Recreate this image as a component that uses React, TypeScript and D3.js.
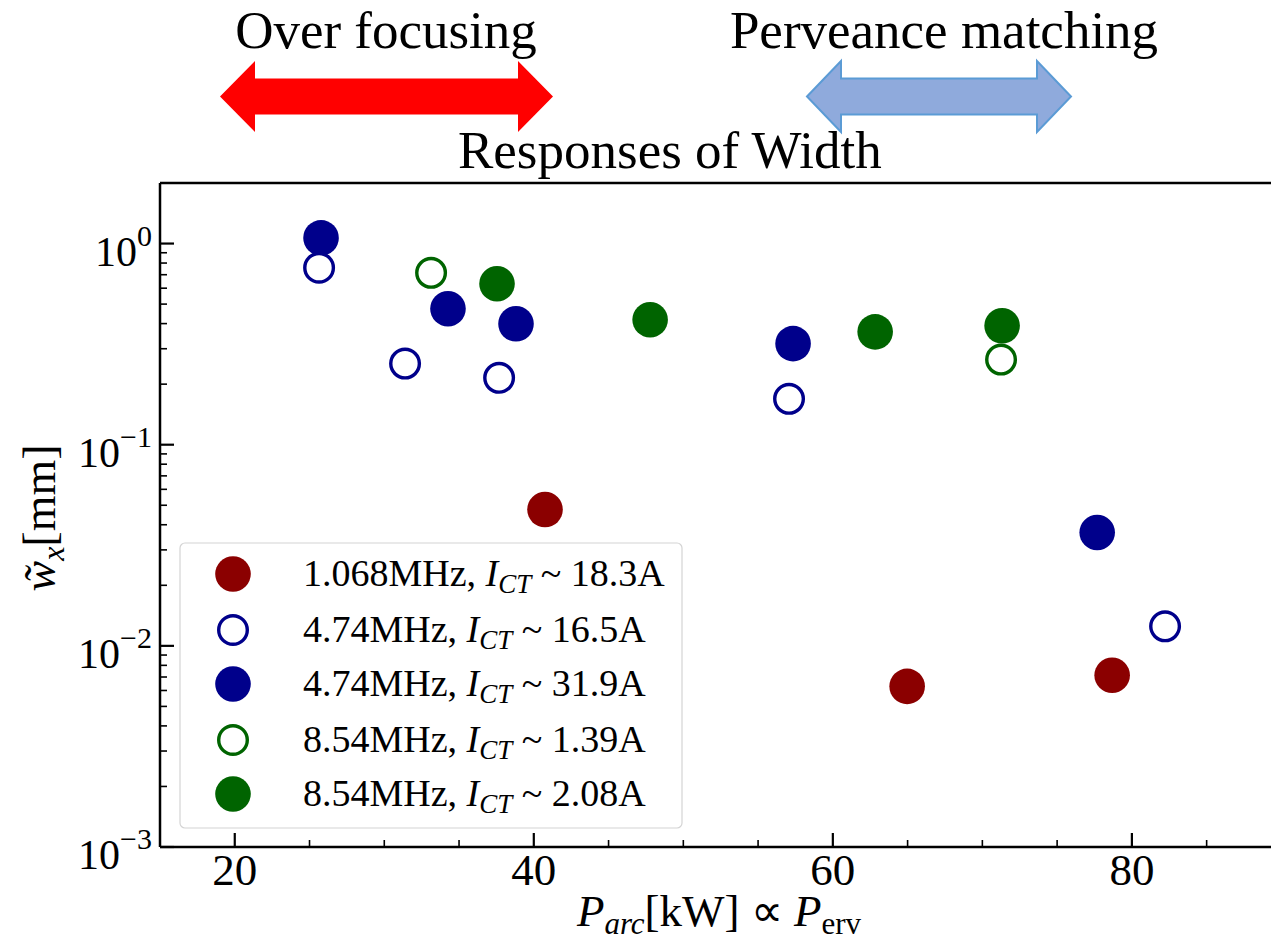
import React from "react";
import * as d3 from "d3";

// Canvas
const WIDTH = 1271;
const HEIGHT = 944;
const FONT = "'Liberation Serif', 'Times New Roman', serif";

// Axis extents
const xDomain: [number, number] = [15, 90];
const yDomain: [number, number] = [1e-3, 2];
const xMajorTicks = [20, 40, 60, 80];
const xTickLabels = ["20", "40", "60", "80"];
const yMajorTicks = [1e-3, 1e-2, 1e-1, 1];
const yTickExponents = ["\u22123", "\u22122", "\u22121", "0"];

// Series: P_arc [kW] and normalised width
const redX = [40.75, 64.97, 78.68];
const redY = [0.0476, 0.00629, 0.00714];

const blueOpenX = [25.64, 31.39, 37.68, 57.07, 82.22];
const blueOpenY = [0.758, 0.253, 0.215, 0.169, 0.0125];

const blueFilledX = [25.77, 34.26, 38.81, 57.34, 77.68];
const blueFilledY = [1.067, 0.474, 0.399, 0.318, 0.0366];

const greenOpenX = [33.13, 71.25];
const greenOpenY = [0.715, 0.265];

const greenFilledX = [37.54, 47.78, 62.83, 71.32];
const greenFilledY = [0.631, 0.418, 0.364, 0.39];

const legendFreq = ["1.068MHz, ", "4.74MHz, ", "4.74MHz, ", "8.54MHz, ", "8.54MHz, "];
const legendCurrent = ["18.3A", "16.5A", "31.9A", "1.39A", "2.08A"];
const legendColors = ["#8b0000", "#00008b", "#00008b", "#006400", "#006400"];
const legendOpen = [false, true, false, true, false];

type Series = { xs: number[]; ys: number[]; color: string; open: boolean };
const seriesList: Series[] = [
  { xs: redX, ys: redY, color: legendColors[0], open: false },
  { xs: blueFilledX, ys: blueFilledY, color: legendColors[2], open: false },
  { xs: greenFilledX, ys: greenFilledY, color: legendColors[4], open: false },
  { xs: blueOpenX, ys: blueOpenY, color: legendColors[1], open: true },
  { xs: greenOpenX, ys: greenOpenY, color: legendColors[3], open: true },
];

const FILLED_R = 17.8;
const OPEN_R = 14.3;
const OPEN_W = 3.4;

function Marker({ cx, cy, color, open }: { cx: number; cy: number; color: string; open: boolean }) {
  return open ? (
    <circle cx={cx} cy={cy} r={OPEN_R} fill="#fff" stroke={color} strokeWidth={OPEN_W} />
  ) : (
    <circle cx={cx} cy={cy} r={FILLED_R} fill={color} />
  );
}

function doubleArrow(x0: number, x1: number, head: number, cy: number, halfHead: number, halfShaft: number) {
  const pts = [
    [x0, cy],
    [x0 + head, cy - halfHead],
    [x0 + head, cy - halfShaft],
    [x1 - head, cy - halfShaft],
    [x1 - head, cy - halfHead],
    [x1, cy],
    [x1 - head, cy + halfHead],
    [x1 - head, cy + halfShaft],
    [x0 + head, cy + halfShaft],
    [x0 + head, cy + halfHead],
  ];
  return pts.map((p) => p.join(",")).join(" ");
}

export default function App() {
  const left = 160;
  const right = 1281.4;
  const top = 183;
  const bottom = 847;

  const x = d3.scaleLinear().domain(xDomain).range([left, right]);
  const y = d3.scaleLog().domain(yDomain).range([bottom, top]);

  const xMinor = d3.range(15, 91, 5).filter((v) => v % 20 !== 0);
  const yMinor: number[] = [];
  for (let e = -3; e <= 0; e++) {
    for (let k = 2; k <= 9; k++) {
      const v = k * Math.pow(10, e);
      if (v <= yDomain[1]) yMinor.push(v);
    }
  }

  const legendRows = [574, 630, 684, 740, 794];

  return (
    <svg
      width={WIDTH}
      height={HEIGHT}
      style={{ position: "absolute", left: 0, top: 0, display: "block", background: "#fff" }}
      fontFamily={FONT}
    >
      <rect x={0} y={0} width={WIDTH} height={HEIGHT} fill="#fff" />

      {/* Regime annotations */}
      <text x={386} y={48} fontSize={53} textAnchor="middle" fill="#000">
        Over focusing
      </text>
      <polygon points={doubleArrow(220, 553, 35, 96.5, 35.5, 18)} fill="#ff0000" />
      <text x={944} y={48} fontSize={53} textAnchor="middle" fill="#000">
        Perveance matching
      </text>
      <polygon
        points={doubleArrow(807, 1071, 34, 96.5, 35.5, 18)}
        fill="#8faadc"
        stroke="#5b9bd5"
        strokeWidth={2}
      />
      <text x={458} y={168} fontSize={53} fill="#000">
        Responses of Width
      </text>

      {/* Data */}
      {seriesList.map((s, si) =>
        s.xs.map((v, i) => (
          <Marker key={`${si}-${i}`} cx={x(v)} cy={y(s.ys[i])} color={s.color} open={s.open} />
        ))
      )}

      {/* Spines */}
      <g stroke="#000" strokeWidth={2.5} fill="none">
        <line x1={left} y1={top} x2={left} y2={bottom} />
        <line x1={left} y1={bottom} x2={right} y2={bottom} />
        <line x1={left} y1={top} x2={right} y2={top} />
        <line x1={right} y1={top} x2={right} y2={bottom} />
      </g>

      {/* Ticks (inward) */}
      <g stroke="#000">
        {xMajorTicks.map((v) => (
          <line key={`xM${v}`} x1={x(v)} x2={x(v)} y1={bottom} y2={bottom - 14} strokeWidth={2.2} />
        ))}
        {xMinor.map((v) => (
          <line key={`xm${v}`} x1={x(v)} x2={x(v)} y1={bottom} y2={bottom - 7} strokeWidth={1.6} />
        ))}
        {yMajorTicks.map((v) => (
          <line key={`yM${v}`} x1={left} x2={left + 14} y1={y(v)} y2={y(v)} strokeWidth={2.2} />
        ))}
        {yMinor.map((v) => (
          <line key={`ym${v}`} x1={left} x2={left + 7} y1={y(v)} y2={y(v)} strokeWidth={1.6} />
        ))}
      </g>

      {/* Tick labels */}
      {xMajorTicks.map((v, i) => (
        <text key={`xl${v}`} x={x(v)} y={885} fontSize={45} textAnchor="middle" fill="#000">
          {xTickLabels[i]}
        </text>
      ))}
      {yMajorTicks.map((v, i) => (
        <text key={`yl${v}`} x={152} y={y(v) + 22} fontSize={42} textAnchor="end" fill="#000">
          <tspan>10</tspan>
          <tspan dy={-20} fontSize={30}>
            {yTickExponents[i]}
          </tspan>
        </text>
      ))}

      {/* Axis labels */}
      <text x={719} y={926} fontSize={45} textAnchor="middle" fill="#000">
        <tspan fontStyle="italic">P</tspan>
        <tspan fontStyle="italic" fontSize={31} dy={8}>
          arc
        </tspan>
        <tspan dy={-8}>[kW]</tspan>
        <tspan> {"\u221D"} </tspan>
        <tspan fontStyle="italic">P</tspan>
        <tspan fontSize={31} dy={8}>
          erv
        </tspan>
      </text>
      <text
        transform="translate(55,518) rotate(-90)"
        fontSize={46}
        textAnchor="middle"
        fill="#000"
      >
        <tspan fontStyle="italic">{"w\u0303"}</tspan>
        <tspan fontStyle="italic" fontSize={32} dy={9}>
          x
        </tspan>
        <tspan dy={-9}>[mm]</tspan>
      </text>

      {/* Legend */}
      <rect x={180} y={543} width={502} height={285} rx={5} fill="#fff" fillOpacity={0.8} stroke="#d4d4d4" strokeWidth={1.2} />
      {legendRows.map((ry, i) => (
        <g key={`lg${i}`}>
          <Marker cx={233} cy={ry} color={legendColors[i]} open={legendOpen[i]} />
          <text x={303} y={ry + 12} fontSize={38} fill="#000">
            <tspan>{legendFreq[i]}</tspan>
            <tspan fontStyle="italic">I</tspan>
            <tspan fontStyle="italic" fontSize={27} dy={7}>
              CT
            </tspan>
            <tspan dy={-7}>{" ~ "}</tspan>
            <tspan>{legendCurrent[i]}</tspan>
          </text>
        </g>
      ))}
    </svg>
  );
}
